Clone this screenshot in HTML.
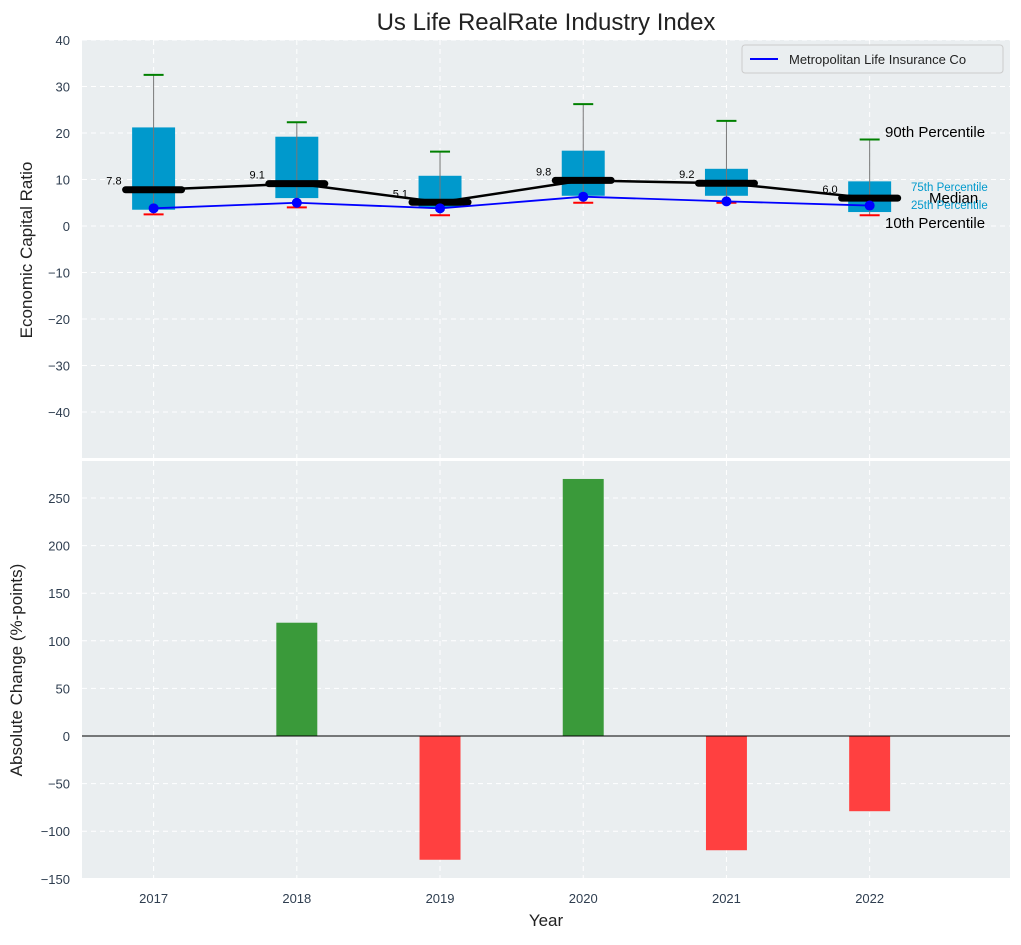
<!DOCTYPE html>
<html><head><meta charset="utf-8"><style>
body{margin:0;background:#fff;font-family:"Liberation Sans",sans-serif}
</style></head><body>
<svg id="c" width="1021" height="940" xmlns="http://www.w3.org/2000/svg" font-family="Liberation Sans, sans-serif"></svg>
<script>
const years=[2017,2018,2019,2020,2021,2022];
const p10=[2.5,4,2.3,5,5,2.3];
const p25=[3.5,6,4,6.5,6.5,3];
const p50=[7.8,9.1,5.1,9.8,9.2,6.0];
const p75=[21.2,19.2,10.8,16.2,12.3,9.6];
const p90=[32.5,22.3,16,26.2,22.6,18.6];
const metlife=[3.8,5.0,3.8,6.3,5.3,4.4];
const changes=[0,119,-130,270,-120,-79];
const topTicks=[40,30,20,10,0,-10,-20,-30,-40];
const botTicks=[250,200,150,100,50,0,-50,-100,-150];

const svg=document.getElementById('c');
const NS='http://www.w3.org/2000/svg';
function el(t,a,parent){const e=document.createElementNS(NS,t);for(const k in a)e.setAttribute(k,a[k]);(parent||svg).appendChild(e);return e;}
const fmt=v=>v<0?'\u2212'+(-v):String(v);
const L=82,R=1010;
const x=v=>L+(v-2016.5)*(R-L)/6.48;
const T1=40,B1=458;const y1=v=>226-v*4.65;
const T2=461,B2=878;const y2=v=>736-v*0.952;
const tc='#2f3e50';

let p=el('rect',{x:L,y:T1,width:R-L,height:B1-T1,fill:'#eaeef0'});

p=el('rect',{x:L,y:T2,width:R-L,height:B2-T2,fill:'#eaeef0'});

years.forEach(yr=>{el('line',{x1:x(yr),x2:x(yr),y1:T1,y2:B1,stroke:'#fff','stroke-dasharray':'5,4'});el('line',{x1:x(yr),x2:x(yr),y1:T2,y2:B2,stroke:'#fff','stroke-dasharray':'5,4'});
 let t=el('text',{x:x(yr),y:903,'text-anchor':'middle','font-size':13,fill:tc});t.textContent=yr;
 });
topTicks.forEach(v=>{el('line',{x1:L,x2:R,y1:y1(v),y2:y1(v),stroke:'#fff','stroke-dasharray':'5,4'});
 let t=el('text',{x:70,y:y1(v)+5,'text-anchor':'end','font-size':13,fill:tc});t.textContent=fmt(v);
 });
botTicks.forEach(v=>{el('line',{x1:L,x2:R,y1:y2(v),y2:y2(v),stroke:'#fff','stroke-dasharray':'5,4'});
 let t=el('text',{x:70,y:y2(v)+5,'text-anchor':'end','font-size':13,fill:tc});t.textContent=fmt(v);
 });

const bw=0.3*(R-L)/6.48;
years.forEach((yr,i)=>{
 let cx=x(yr);
 let b=el('rect',{x:cx-bw/2,y:y1(p75[i]),width:bw,height:y1(p25[i])-y1(p75[i]),fill:'#0099cc'});
 
 el('line',{x1:cx,x2:cx,y1:y1(p90[i]),y2:y1(p10[i]),stroke:'#777','stroke-width':1});
 el('line',{x1:cx-10,x2:cx+10,y1:y1(p90[i]),y2:y1(p90[i]),stroke:'green','stroke-width':2});
 el('line',{x1:cx-10,x2:cx+10,y1:y1(p10[i]),y2:y1(p10[i]),stroke:'red','stroke-width':2});
});
el('polyline',{points:years.map((yr,i)=>x(yr)+','+y1(p50[i])).join(' '),fill:'none',stroke:'#000','stroke-width':2.5});
years.forEach((yr,i)=>{let cx=x(yr);
 let m=el('line',{x1:cx-28,x2:cx+28,y1:y1(p50[i]),y2:y1(p50[i]),stroke:'#000','stroke-width':7,'stroke-linecap':'round'});
 
 let t=el('text',{x:cx-32,y:y1(p50[i])-5,'text-anchor':'end','font-size':11,fill:'#000'});t.textContent=p50[i].toFixed(1);
 });
el('polyline',{points:years.map((yr,i)=>x(yr)+','+y1(metlife[i])).join(' '),fill:'none',stroke:'blue','stroke-width':1.8});
years.forEach((yr,i)=>{let c=el('circle',{cx:x(yr),cy:y1(metlife[i]),r:5,fill:'blue'});
 });
[[885,137,'90th Percentile',15,'#000'],[911,191,'75th Percentile',11.5,'#0099cc'],[929,203,'Median',15,'#000'],[911,209,'25th Percentile',11.5,'#0099cc'],[885,228,'10th Percentile',15,'#000']].forEach(a=>{
 let t=el('text',{x:a[0],y:a[1],'font-size':a[3],fill:a[4]});t.textContent=a[2];
 });
let lg=el('g',{});
el('rect',{x:742,y:45,width:261,height:28,fill:'#eaeef0',stroke:'#ccc',rx:3},lg);
el('line',{x1:750,x2:778,y1:59,y2:59,stroke:'blue','stroke-width':2},lg);
let lt=el('text',{x:789,y:64,'font-size':13,fill:'#222'},lg);lt.textContent='Metropolitan Life Insurance Co';

years.forEach((yr,i)=>{let v=changes[i];if(v===0)return;
 let r=el('rect',{x:x(yr)-bw/2+1,y:Math.min(y2(v),y2(0)),width:bw-2,height:Math.abs(y2(v)-y2(0)),fill:v>0?'#3a9a3a':'#ff4040'});
 });
el('line',{x1:L,x2:R,y1:y2(0),y2:y2(0),stroke:'#000','stroke-width':1});

let t=el('text',{x:546,y:30,'text-anchor':'middle','font-size':24,fill:'#222'});t.textContent='Us Life RealRate Industry Index';

t=el('text',{x:0,y:0,'text-anchor':'middle','font-size':17,fill:'#222',transform:'translate(32,250) rotate(-90)'});t.textContent='Economic Capital Ratio';

t=el('text',{x:0,y:0,'text-anchor':'middle','font-size':17,fill:'#222',transform:'translate(22,670) rotate(-90)'});t.textContent='Absolute Change (%-points)';

t=el('text',{x:546,y:926,'text-anchor':'middle','font-size':17,fill:'#222'});t.textContent='Year';

</script>
</body></html>
